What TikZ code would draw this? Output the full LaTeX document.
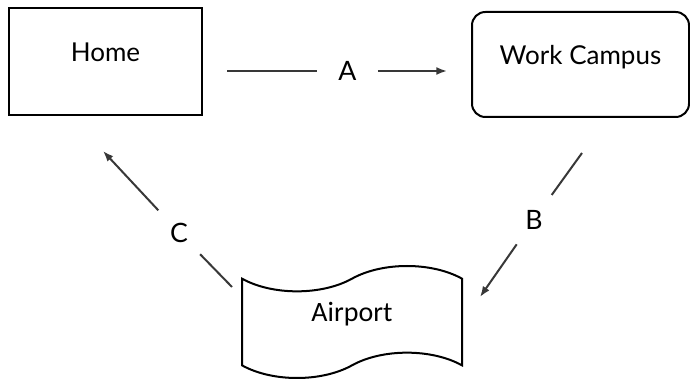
\documentclass[tikz,border=0pt]{standalone}
\usepackage{fontspec}
\setmainfont{Lato}
\newfontfamily\tapefont{Carlito}
\usetikzlibrary{shapes.symbols,arrows.meta}

\tikzset{
	place/.style={draw, line width=1.5pt, inner sep=0pt,
		font=\fontsize{19.5}{22}\selectfont, text height=12pt, text depth=12pt},
	leg/.style={circle, minimum size=45pt, inner sep=0pt,
		font=\fontsize{20}{22}\selectfont},
	route/.style={draw=black!78, line width=1.5pt},
	tip/.style={-{Latex[length=8pt,width=6pt]}},
}

\begin{document}
\begin{tikzpicture}[x=0.75pt,y=-0.75pt]
	\useasboundingbox (0,0) rectangle (690,381);
	% places
	\node[place, minimum width=144.75pt, minimum height=80.25pt] (home) at (105.5,61.5) {Home};
	\node[place, rounded corners=10pt, minimum width=162.75pt, minimum height=78.75pt] (work) at (580.5,64.5) {Work Campus};
	\node[place, tape, tape bend height=19pt, minimum width=165pt, minimum height=84pt,
		font=\tapefont\fontsize{21}{24}\selectfont] (airport) at (352,322) {Airport};
	% legs of the trip
	\coordinate (a1) at (227,71);
	\coordinate (a2) at (447,71);
	\node[leg] (A) at (347.5,71) {A};
	\draw[route] (a1) -- (A);
	\draw[route,tip] (A) -- (a2);
	\coordinate (b1) at (582,153);
	\coordinate (b2) at (480,297);
	\node[leg] (B) at (534,219.5) {B};
	\draw[route] (b1) -- (B);
	\draw[route,tip] (B) -- (b2);
	\coordinate (c1) at (232,287);
	\coordinate (c2) at (103,151);
	\node[leg] (C) at (179,232.5) {C};
	\draw[route] (c1) -- (C);
	\draw[route,tip] (C) -- (c2);
\end{tikzpicture}
\end{document}
